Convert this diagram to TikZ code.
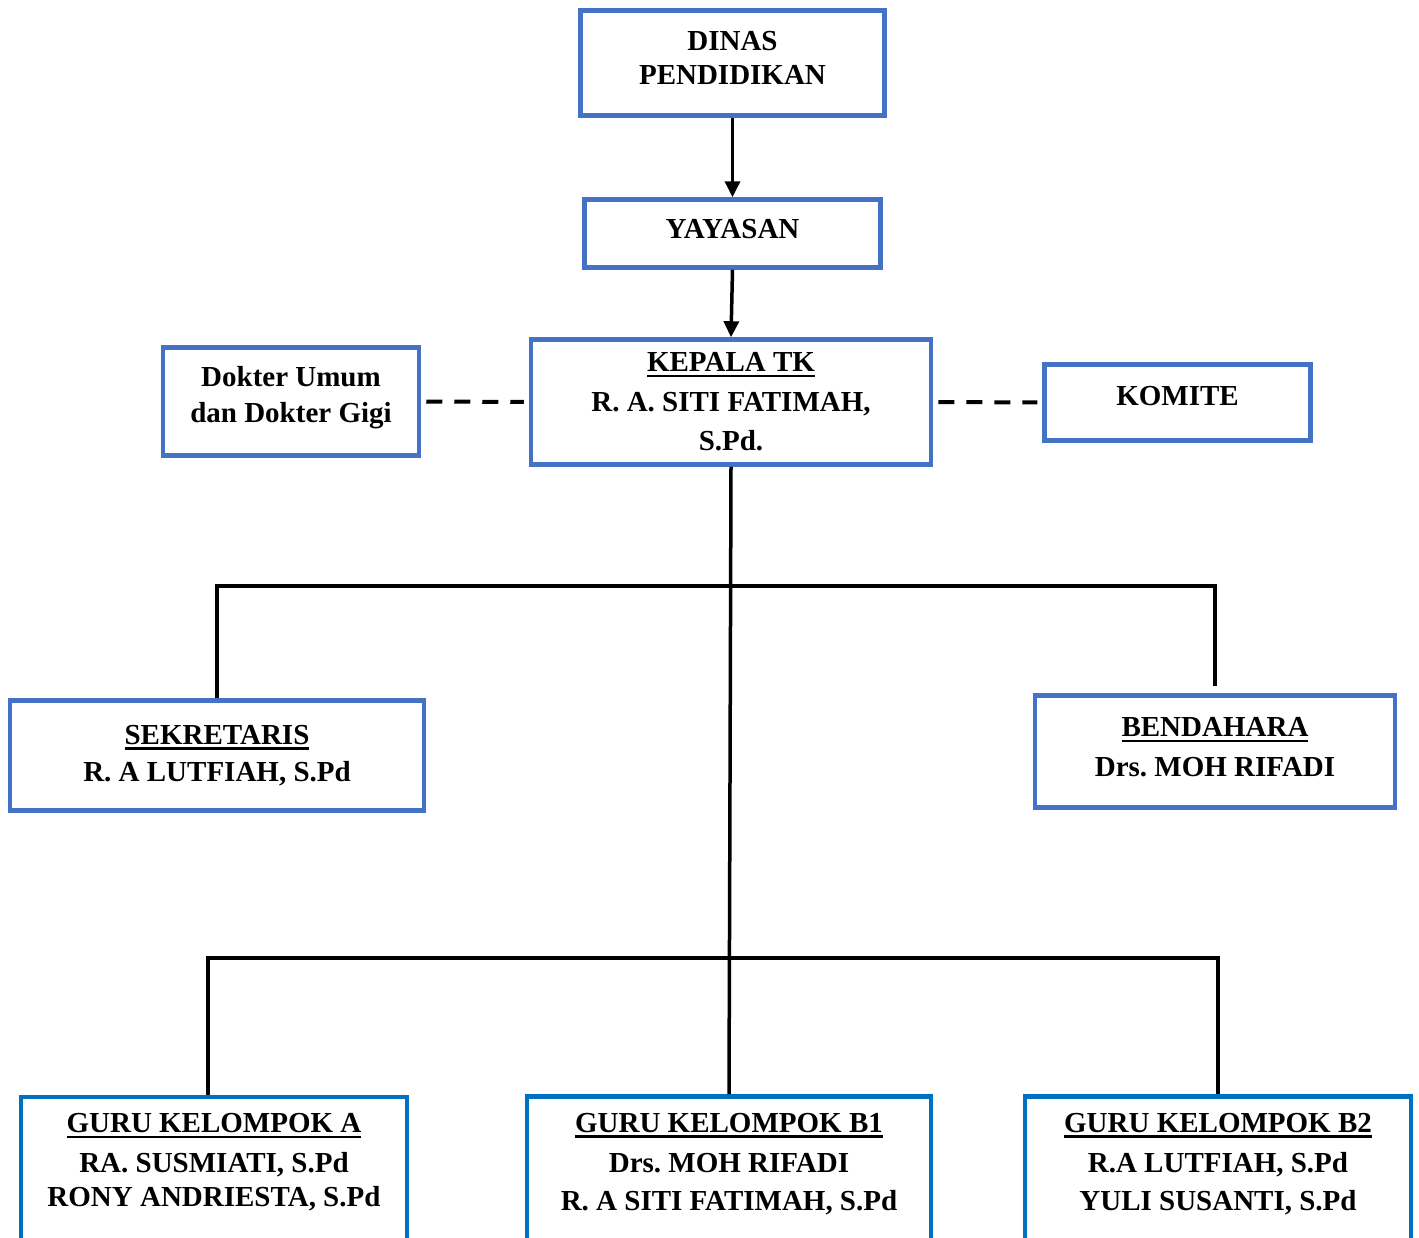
\documentclass[tikz,border=0pt]{standalone}
\usepackage{fontspec}
\setmainfont{Liberation Serif}
\usetikzlibrary{arrows.meta,positioning}
\definecolor{boxcol}{HTML}{4472C4}
\definecolor{grucol}{HTML}{0070C0}
\newcommand{\undl}[1]{\setbox0=\hbox{#1}\rlap{\rule[-5.5pt]{\wd0}{2.5pt}}\box0}
\frenchspacing

\begin{document}
\begin{tikzpicture}[
  x=1pt, y=-1pt, >={Triangle[width=15pt,length=16pt]},
  font=\fontsize{29}{34}\selectfont\bfseries,
  unit/.style={draw=boxcol, line width=4.5pt, align=center, inner sep=0pt},
  guru/.style={draw=grucol, line width=4.5pt, minimum height=200pt, anchor=north},
  txt/.style={align=center, inner sep=0pt},
  link/.style={line width=3.5pt},
  dashlink/.style={line width=4pt, dash pattern=on 16pt off 12pt, shorten <=5pt, shorten >=5pt}
]
\useasboundingbox (0,0) rectangle (1419,1237);
\clip (0,0) rectangle (1419,1237);

% upper part
\node[unit, minimum width=304pt, minimum height=105pt, text depth=11pt] (dinas) at (732.5,63) {DINAS\\PENDIDIKAN};
\node[unit, minimum width=296pt, minimum height=68pt, text depth=10pt] (yayasan) at (732.5,233.5) {YAYASAN};
\node[unit, minimum width=400pt, minimum height=125pt] (kepala) at (731,402) {\undl{KEPALA TK}\\[6pt]R. A. SITI FATIMAH,\\[5pt]S.Pd.};
\node[unit, minimum width=256pt, minimum height=108pt, text depth=14pt] (dokter) at (291,401.5) {Dokter Umum\\[2pt]dan Dokter Gigi};
\node[unit, minimum width=266pt, minimum height=76pt, text depth=13pt] (komite) at (1177.5,402.5) {KOMITE};

\draw[link,->] (dinas.south) -- (yayasan.north);
\draw[link,->] (yayasan.south) -- (kepala.north);
\draw[dashlink] (dokter.east) -- (kepala.west);
\draw[dashlink] (kepala.east) -- (komite.west);

% staff
\node[unit, minimum width=414pt, minimum height=110pt] (sekretaris) at (217,755.5) {\undl{SEKRETARIS}\\[3pt]R. A LUTFIAH, S.Pd};
\node[unit, minimum width=360pt, minimum height=112pt, text depth=9pt] (bendahara) at (1215,751.5) {\undl{BENDAHARA}\\[6pt]Drs. MOH RIFADI};

\coordinate (busA) at (728,586);
\coordinate (busB) at (728,958);
\draw[link] (sekretaris.north) |- (busA) -| ([yshift=7pt]bendahara.north);

% teachers
\node[guru, minimum width=386pt] (guruA) at (214,1094.5) {};
\node[guru, minimum width=404pt] (guruB1) at (729,1094) {};
\node[guru, minimum width=386pt] (guruB2) at (1218,1094) {};
\node[txt, below=19pt of guruA.north] (guruAtxt) {\undl{GURU KELOMPOK A}\\[6pt]RA. SUSMIATI, S.Pd\\RONY ANDRIESTA, S.Pd};
\node[txt, below=19pt of guruB1.north] (guruBtxt) {\undl{GURU KELOMPOK B1}\\[6pt]Drs. MOH RIFADI\\[4pt]R. A SITI FATIMAH, S.Pd};
\node[txt, below=19pt of guruB2.north] (guruCtxt) {\undl{GURU KELOMPOK B2}\\[6pt]R.A LUTFIAH, S.Pd\\[4pt]YULI SUSANTI, S.Pd};

\draw[link] (kepala.south) -- (guruB1.north);
\draw[link] ([xshift=-6pt]guruA.north) |- (busB) -| (guruB2.north);
\end{tikzpicture}
\end{document}
